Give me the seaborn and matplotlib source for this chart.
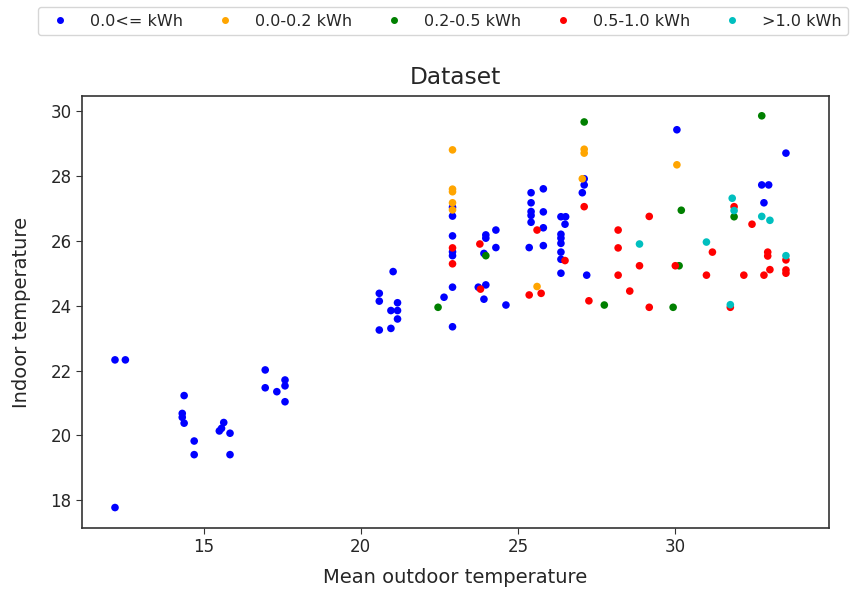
import matplotlib
matplotlib.use("Agg")
import matplotlib.pyplot as plt
from matplotlib.lines import Line2D
import seaborn as sns
import pandas as pd

# Energy-use bins and their colours
categories = ["0.0<= kWh", "0.0-0.2 kWh", "0.2-0.5 kWh", "0.5-1.0 kWh", ">1.0 kWh"]
colors = ["b", "orange", "g", "r", "c"]

# Mean outdoor temperature / indoor temperature per bin
x_low = [12.18, 12.51, 12.18, 14.38, 14.32, 14.32, 14.38, 14.70, 14.70, 15.64,
         15.57, 15.50, 15.84, 15.84, 16.96, 16.96, 17.33, 17.59, 17.59, 17.59,
         20.59, 20.59, 21.03, 21.17, 20.96, 21.17, 21.17, 20.59, 20.96, 22.65,
         22.92, 22.92, 22.92, 22.92, 22.92, 22.92, 22.92, 23.98, 23.98, 24.30,
         24.30, 23.92, 23.74, 23.98, 23.92, 24.62, 25.42, 25.42, 25.42, 25.42,
         25.42, 25.81, 25.81, 25.81, 25.36, 25.81, 26.37, 26.52, 26.50, 26.37,
         26.37, 26.37, 26.37, 26.37, 26.37, 27.11, 27.11, 27.05, 27.19, 30.06,
         32.76, 32.98, 32.83, 33.53]
y_low = [22.33, 22.33, 17.78, 21.23, 20.68, 20.56, 20.38, 19.83, 19.41, 20.40,
         20.22, 20.14, 20.07, 19.41, 22.02, 21.47, 21.35, 21.71, 21.53, 21.04,
         24.38, 24.14, 25.05, 24.09, 23.85, 23.85, 23.59, 23.25, 23.30, 24.26,
         24.57, 23.35, 25.54, 25.66, 26.15, 27.03, 26.76, 26.18, 26.08, 26.33,
         25.79, 25.61, 24.57, 24.64, 24.20, 24.02, 27.48, 27.17, 26.90, 26.78,
         26.57, 27.60, 26.89, 26.40, 25.79, 25.85, 26.74, 26.74, 26.51, 26.20,
         26.08, 25.92, 25.65, 25.43, 25.00, 27.91, 27.72, 27.48, 24.94, 29.42,
         27.72, 27.72, 27.17, 28.70]

x_02 = [22.92, 22.92, 22.92, 22.92, 22.92, 25.61, 27.11, 27.11, 27.05, 30.06]
y_02 = [28.80, 27.59, 27.51, 27.17, 26.95, 24.59, 28.82, 28.70, 27.91, 28.34]

x_05 = [22.46, 23.98, 27.11, 27.75, 30.20, 30.13, 29.94, 31.88, 32.76]
y_05 = [23.95, 25.54, 29.66, 24.02, 26.94, 25.23, 23.95, 26.74, 29.85]

x_10 = [22.92, 22.92, 23.79, 23.81, 25.61, 25.36, 25.74, 26.50, 27.11, 27.26,
        28.19, 28.19, 28.19, 28.56, 28.87, 29.18, 29.18, 30.01, 31.19, 31.00,
        31.88, 31.76, 32.19, 32.45, 32.83, 33.02, 32.95, 32.95, 33.53, 33.53,
        33.53]
y_10 = [25.29, 25.78, 25.90, 24.51, 26.33, 24.33, 24.38, 25.39, 27.05, 24.15,
        26.33, 25.78, 24.94, 24.45, 25.23, 26.75, 23.95, 25.23, 25.65, 24.94,
        27.05, 23.95, 24.94, 26.51, 24.94, 25.11, 25.65, 25.53, 25.41, 25.10,
        25.00]

x_hi = [28.87, 31.00, 31.82, 31.88, 31.76, 32.76, 33.02, 33.53]
y_hi = [25.90, 25.96, 27.31, 26.93, 24.03, 26.75, 26.63, 25.54]

xs = [x_low, x_02, x_05, x_10, x_hi]
ys = [y_low, y_02, y_05, y_10, y_hi]
df = pd.concat(
    [pd.DataFrame({"Mean outdoor temperature": xv,
                   "Indoor temperature": yv,
                   "Consumption": cat})
     for cat, xv, yv in zip(categories, xs, ys)],
    ignore_index=True,
)

sns.set_style("ticks")
plt.rcParams["font.family"] = ["DejaVu Sans"]

fig = plt.figure(figsize=(8.53, 5.92), dpi=100)
ax = fig.add_axes([82 / 853, 1 - 528 / 592, (829 - 82) / 853, (528 - 96) / 592])

sns.scatterplot(data=df, x="Mean outdoor temperature", y="Indoor temperature",
                hue="Consumption", hue_order=categories, palette=colors,
                s=30, linewidth=0, legend=False, ax=ax)

ax.set_xlim(11.13, 34.9)
ax.set_ylim(17.15, 30.46)
ax.set_xticks([15, 20, 25, 30])
ax.set_yticks([18, 20, 22, 24, 26, 28, 30])
ax.tick_params(labelsize=12, length=4, color="#333333")
ax.set_xlabel("Mean outdoor temperature", fontsize=14, labelpad=8)
ax.set_ylabel("Indoor temperature", fontsize=14, labelpad=14)
ax.set_title("Dataset", fontsize=16.8, pad=9)
for sp in ax.spines.values():
    sp.set_visible(True)
    sp.set_color("#333333")
    sp.set_linewidth(1.2)

handles = [Line2D([], [], marker="o", linestyle="", color=c, markersize=4)
           for c in colors]
fig.legend(handles, categories, ncol=5, loc="lower left", mode="expand",
           bbox_to_anchor=(38 / 853, 1 - 35 / 592, (848 - 38) / 853, 30 / 592),
           fontsize=11.5, frameon=True, borderaxespad=0, handletextpad=0.85)

fig.savefig("out.png", dpi=100)
